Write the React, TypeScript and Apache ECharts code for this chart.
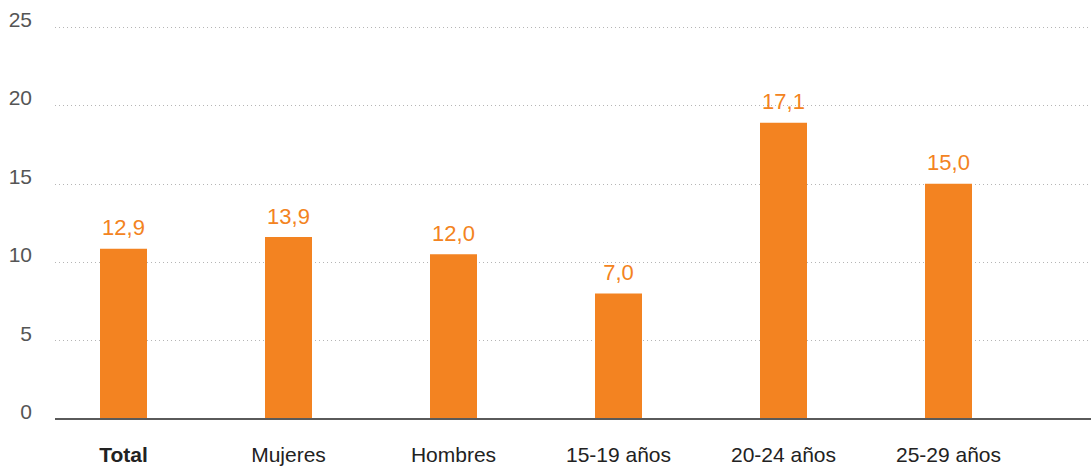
import React, { useEffect, useRef } from "react";
import * as echarts from "echarts";

const categories = ["Total", "Mujeres", "Hombres", "15-19 años", "20-24 años", "25-29 años"];
const barValues = [10.86, 11.6, 10.5, 8.0, 18.9, 15.0];
const labelTexts = ["12,9", "13,9", "12,0", "7,0", "17,1", "15,0"];
const yTicks = [0, 5, 10, 15, 20, 25];

const FONT = "'Liberation Sans', Arial, Helvetica, sans-serif";

export default function App() {
  const ref = useRef<HTMLDivElement>(null);
  useEffect(() => {
    document.body.style.margin = "0";
    const chart = echarts.init(ref.current!, undefined, { renderer: "svg" });
    chart.setOption({
      animation: false,
      grid: [
        { left: 55, right: 0, top: 27, bottom: 47 },
        { left: 41, width: 990, top: 27, bottom: 47 },
      ],
      xAxis: [
        {
          gridIndex: 0,
          type: "value",
          min: 0,
          max: 1,
          show: false,
        },
        {
          gridIndex: 1,
          type: "category",
          data: categories,
          axisLine: { show: false },
          axisTick: { show: false },
          axisLabel: {
            margin: 25,
            fontSize: 21,
            fontFamily: FONT,
            color: "#222",
            formatter: (v: string) => (v === "Total" ? "{b|" + v + "}" : v),
            rich: { b: { fontWeight: "bold", fontSize: 21, fontFamily: FONT, color: "#222" } },
          },
        },
      ],
      yAxis: [
        {
          gridIndex: 0,
          type: "value",
          min: yTicks[0],
          max: yTicks[yTicks.length - 1],
          interval: 5,
          axisLine: { show: false },
          axisTick: { show: false },
          splitLine: {
            show: true,
            lineStyle: { color: "#b5b5b5", type: [1, 3], width: 1 },
          },
          axisLabel: {
            margin: 23,
            fontSize: 21,
            fontFamily: FONT,
            color: "#555",
            verticalAlign: "bottom",
            lineHeight: 15,
          },
        },
        {
          gridIndex: 1,
          type: "value",
          min: yTicks[0],
          max: yTicks[yTicks.length - 1],
          interval: 5,
          show: false,
          splitLine: { show: false },
        },
      ],
      series: [
        {
          type: "line",
          xAxisIndex: 0,
          yAxisIndex: 0,
          data: [[0, 0], [1, 0]],
          symbol: "none",
          lineStyle: { color: "#5a5a5a", width: 2 },
          z: 5,
          silent: true,
        },
        {
          type: "bar",
          xAxisIndex: 1,
          yAxisIndex: 1,
          data: barValues,
          barWidth: 47,
          itemStyle: { color: "#F38321" },
          label: {
            show: true,
            position: "top",
            distance: 10,
            fontSize: 22,
            fontFamily: FONT,
            color: "#F38321",
            formatter: (p: any) => labelTexts[p.dataIndex],
          },
          z: 3,
        },
      ],
    });
    return () => chart.dispose();
  }, []);
  return <div ref={ref} style={{ position: "absolute", left: 0, top: 0, width: 1091, height: 466 }} />;
}
